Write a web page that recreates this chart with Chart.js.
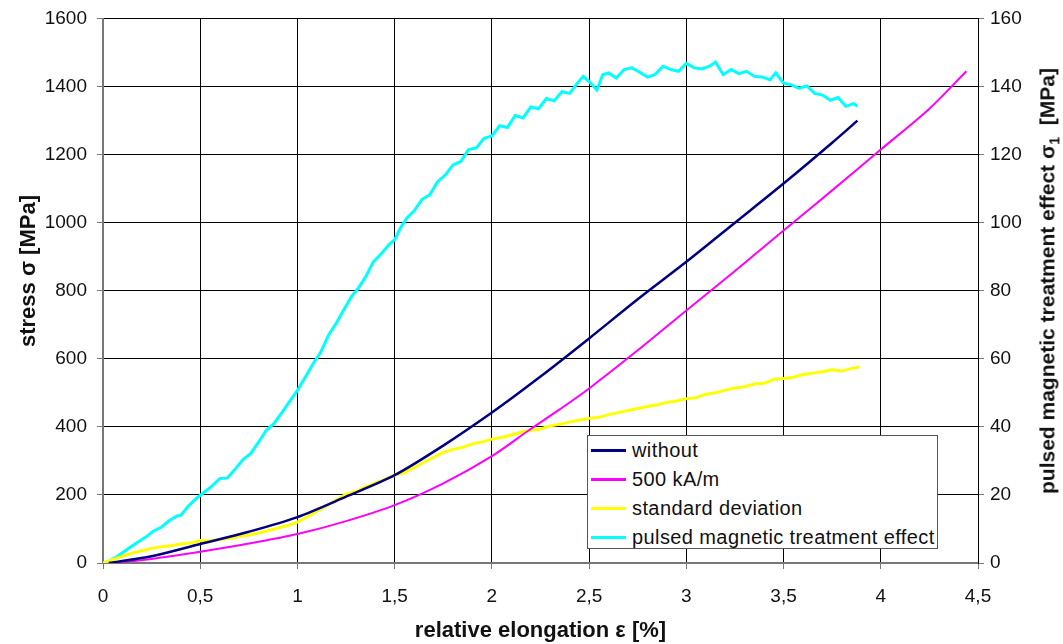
<!DOCTYPE html>
<html>
<head>
<meta charset="utf-8">
<script src="https://cdn.jsdelivr.net/npm/chart.js@4.4.1/dist/chart.umd.min.js"></script>
<style>
  html, body { margin: 0; padding: 0; background: #fff; }
  #wrap { position: relative; width: 1063px; height: 644px; font-family: "Liberation Sans", Arial, sans-serif; }
  #legend { position: absolute; left: 587px; top: 435px; width: 351px; height: 114px; background: #fff;
            border: 1px solid #555; box-sizing: border-box; padding-top: 0; }
  .row { height: 29px; display: flex; align-items: center; font-size: 20px; letter-spacing: 0.4px; color: #111; }
  .swatch { width: 35px; height: 3px; margin: 0 6px 0 3px; }
  .vtitle { position: absolute; transform: translate(-50%, -50%) rotate(-90deg);
            white-space: nowrap; font-weight: bold; font-size: 22px; color: #111; }
</style>
</head>
<body>
<div id="wrap">
  <canvas id="chart" width="1063" height="644"></canvas>
  <div id="legend"></div>
  <div class="vtitle" style="left:28px; top:271px;">stress σ [MPa]</div>
  <div class="vtitle" style="left:1049px; top:281px; font-size:21px;">pulsed magnetic treatment effect σ<sub style="font-size:14px">1</sub>&nbsp;&nbsp;[MPa]</div>
</div>
<script>
// stress-strain curves (x in %, stress in MPa)
const withoutX = [0.03, 0.25, 0.5, 0.75, 1, 1.25, 1.5, 1.75, 2, 2.25, 2.5, 2.75, 3, 3.25, 3.5, 3.75, 3.88];
const withoutY = [0, 20, 56, 92, 135, 195, 258, 345, 442, 548, 660, 775, 885, 1000, 1115, 1235, 1300];

const fieldX = [0.05, 0.25, 0.5, 0.75, 1, 1.25, 1.5, 1.75, 2, 2.19, 2.35, 2.5, 2.75, 3, 3.25, 3.5, 3.75, 4, 4.25, 4.44];
const fieldY = [0, 12, 33, 57, 85, 123, 170, 234, 314, 390, 452, 513, 625, 742, 858, 977, 1095, 1215, 1335, 1445];

// right axis values (MPa)
const stdX = [0, 0.05, 0.1, 0.15, 0.2, 0.25, 0.3, 0.35, 0.4, 0.45, 0.5, 0.55, 0.6, 0.65, 0.7, 0.75, 0.8, 0.85,
  0.9, 0.95, 1, 1.05, 1.1, 1.15, 1.2, 1.25, 1.3, 1.35, 1.4, 1.45, 1.5, 1.55, 1.6, 1.65, 1.7, 1.75, 1.8, 1.85,
  1.9, 1.95, 2, 2.05, 2.1, 2.15, 2.2, 2.25, 2.3, 2.35, 2.4, 2.45, 2.5, 2.55, 2.6, 2.65, 2.7, 2.75, 2.8, 2.85,
  2.9, 2.95, 3, 3.05, 3.1, 3.15, 3.2, 3.25, 3.3, 3.35, 3.4, 3.45, 3.5, 3.55, 3.6, 3.65, 3.7, 3.75, 3.8, 3.85, 3.89];
const stdY = [0, 1.0, 2.0, 2.9, 3.6, 4.3, 4.8, 5.1, 5.6, 5.9, 6.6, 6.5, 6.9, 7.2, 7.8, 8.2, 8.8, 9.5,
  10.3, 11.0, 12.0, 13.5, 15.2, 16.8, 18.5, 20.2, 21.0, 22.4, 23.5, 24.6, 25.8, 26.6, 28.0, 29.6, 31.0, 32.5, 33.4, 34.0,
  35.0, 35.6, 36.4, 36.9, 37.6, 38.4, 39.0, 39.4, 40.3, 40.8, 41.4, 42.0, 42.5, 42.8, 43.6, 44.2, 44.8, 45.4, 46.0, 46.5,
  47.2, 47.6, 48.3, 48.6, 49.6, 50.0, 50.8, 51.4, 51.8, 52.6, 52.8, 54.0, 54.2, 54.6, 55.4, 55.8, 56.2, 56.8, 56.4, 57.2, 57.6];

const pulseX = [0, 0.03, 0.06, 0.1, 0.14, 0.18, 0.22, 0.26, 0.3, 0.34, 0.38, 0.4, 0.44, 0.48, 0.52, 0.56, 0.6, 0.64,
  0.68, 0.72, 0.76, 0.8, 0.84, 0.88, 0.92, 0.96, 1.0, 1.04, 1.08, 1.12, 1.16, 1.2, 1.24, 1.28, 1.31, 1.35, 1.39,
  1.43, 1.47, 1.5, 1.53, 1.56, 1.6, 1.64, 1.68, 1.72, 1.76, 1.8, 1.84, 1.88, 1.92, 1.96, 2.0, 2.04, 2.08, 2.12,
  2.16, 2.2, 2.24, 2.28, 2.32, 2.36, 2.4, 2.44, 2.47, 2.5, 2.54, 2.57, 2.6, 2.64, 2.68, 2.72, 2.76, 2.8, 2.84,
  2.88, 2.92, 2.96, 3.0, 3.04, 3.08, 3.12, 3.15, 3.19, 3.23, 3.27, 3.31, 3.35, 3.39, 3.43, 3.46, 3.5, 3.54, 3.58,
  3.62, 3.66, 3.7, 3.74, 3.78, 3.82, 3.86, 3.88];
const pulseY = [0, 0.5, 1.5, 3.0, 4.6, 6.2, 7.6, 9.4, 10.5, 12.4, 13.8, 14.0, 16.8, 19.0, 20.8, 22.6, 24.8, 25.0,
  27.6, 30.4, 32.2, 35.5, 39.0, 41.0, 44.2, 47.5, 50.7, 54.6, 58.5, 62.0, 67.0, 70.5, 74.6, 78.5, 80.5, 84.0, 88.5,
  90.8, 93.5, 95.0, 98.5, 101.2, 103.5, 106.8, 108.2, 112.0, 114.0, 117.0, 118.0, 121.5, 122.0, 124.8, 125.5, 128.5, 128.0, 131.5,
  130.8, 134.0, 133.5, 136.5, 135.8, 138.5, 138.0, 141.0, 143.0, 141.5, 139.0, 143.5, 144.0, 142.5, 145.0, 145.5, 144.2, 142.8, 143.6,
  146.0, 145.0, 144.5, 146.8, 145.5, 145.2, 146.0, 147.2, 143.5, 145.0, 143.8, 144.5, 143.0, 142.8, 142.0, 144.0, 141.0, 140.5, 139.5,
  140.2, 138.0, 137.5, 136.0, 136.8, 134.2, 135.0, 134.2];

const toPts = (xs, ys) => xs.map((x, i) => ({ x: x, y: ys[i] }));
const tickFont = { family: 'Liberation Sans', size: 19, lineHeight: 0.9 };
const titleFont = { family: 'Liberation Sans', size: 22, weight: 'bold' };

const chart = new Chart(document.getElementById('chart').getContext('2d'), {
    type: 'line',
    data: {
        datasets: [
            { label: 'without', data: toPts(withoutX, withoutY), borderColor: '#000080', borderWidth: 2.5,
                tension: 0.3, yAxisID: 'y' },
            { label: '500 kA/m', data: toPts(fieldX, fieldY), borderColor: '#ff00ff', borderWidth: 2,
                tension: 0.3, yAxisID: 'y' },
            { label: 'standard deviation', data: toPts(stdX, stdY), borderColor: '#ffff00', borderWidth: 3,
                tension: 0, yAxisID: 'y1' },
            { label: 'pulsed magnetic treatment effect', data: toPts(pulseX, pulseY), borderColor: '#00ffff',
                borderWidth: 3, tension: 0, yAxisID: 'y1' },
        ],
    },
    options: {
        responsive: false,
        animation: false,
        layout: { padding: { top: 17, left: 0, right: 0, bottom: 0 } },
        elements: { point: { radius: 0 }, line: { fill: false } },
        plugins: { legend: { display: false }, tooltip: { enabled: false } },
        scales: {
            x: { type: 'linear', min: 0, max: 4.5,
                ticks: { stepSize: 0.5, color: '#111', font: tickFont, padding: 19,
                    callback: v => String(v).replace('.', ',') },
                grid: { color: '#000', lineWidth: 1, tickLength: 6, tickColor: '#777' },
                border: { color: '#777', width: 2 },
                title: { display: true, text: 'relative elongation ε [%]', color: '#111', font: titleFont,
                    padding: { top: 0, bottom: 0 } },
                afterFit: s => { s.height = 81; } },
            y: { position: 'left', min: 0, max: 1600,
                ticks: { stepSize: 200, color: '#111', font: tickFont, padding: 10, callback: v => String(v) },
                grid: { color: '#000', lineWidth: 1, tickLength: 6, tickColor: '#777' },
                border: { color: '#777', width: 2 },
                afterFit: s => { s.width = 103; } },
            y1: { position: 'right', min: 0, max: 160,
                ticks: { stepSize: 20, color: '#111', font: tickFont, padding: 6, callback: v => String(v) },
                grid: { drawOnChartArea: false, tickLength: 6, tickColor: '#777' },
                border: { color: '#000', width: 1 },
                afterFit: s => { s.width = 85; } },
        },
    },
});

// legend box inside the plot, built from the datasets
document.getElementById('legend').innerHTML = chart.data.datasets.map(d =>
    `<div class="row"><span class="swatch" style="background:${d.borderColor}"></span>${d.label}</div>`).join('');
</script>
</body>
</html>
